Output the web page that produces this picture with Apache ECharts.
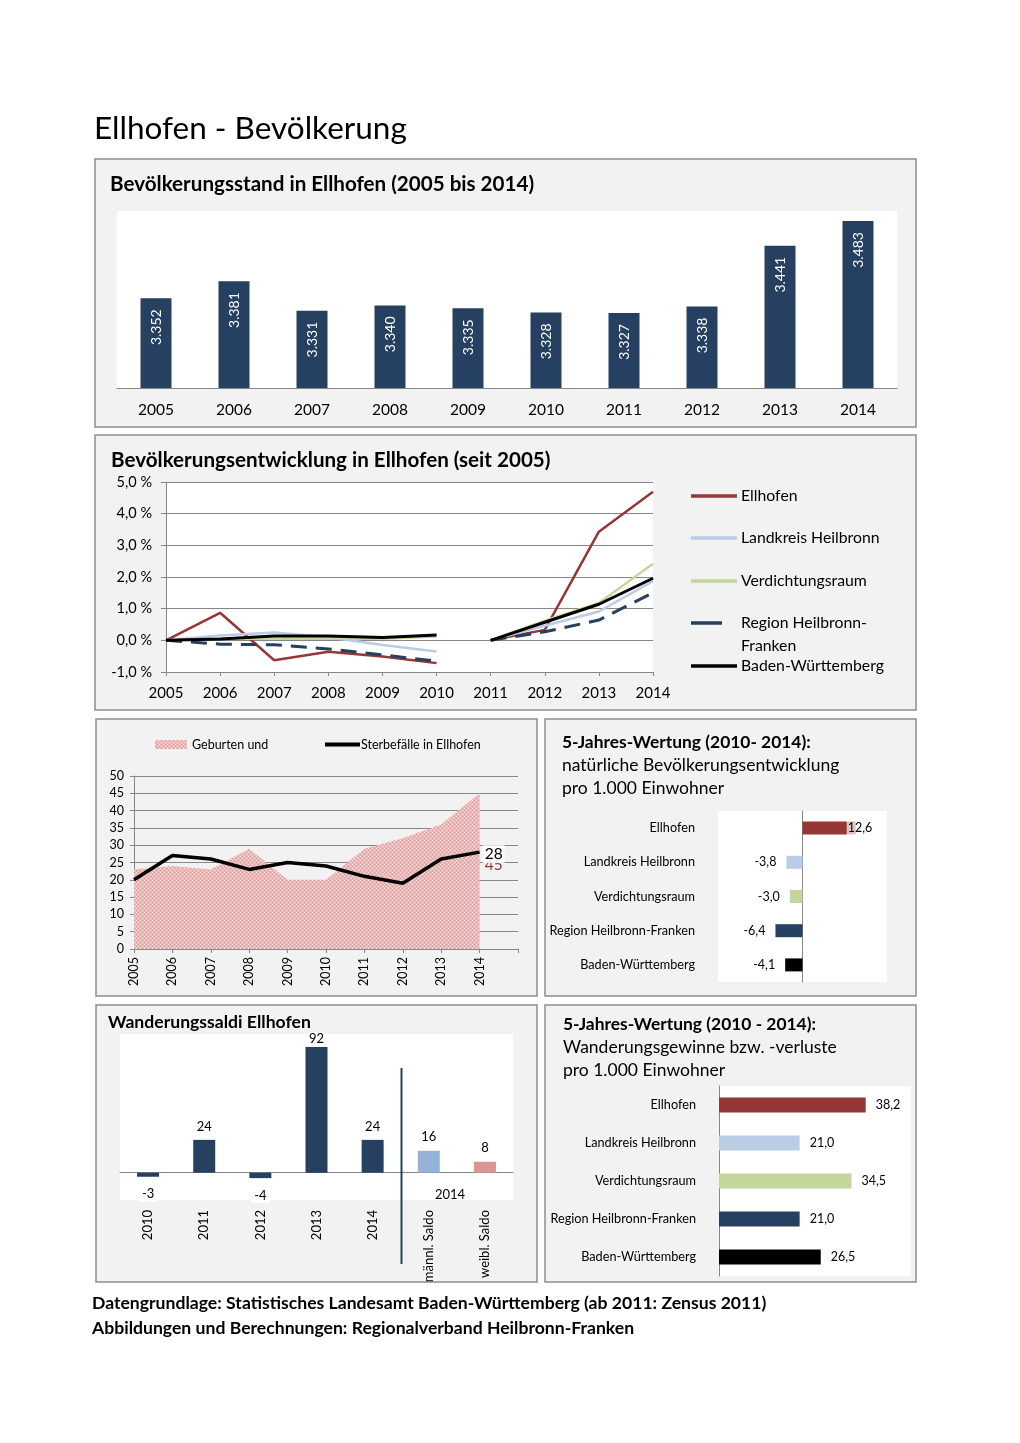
<!DOCTYPE html>
<html><head><meta charset="utf-8">
<script src="https://cdn.jsdelivr.net/npm/echarts@6/dist/echarts.min.js"></script>
<style>html,body{margin:0;padding:0;background:#fff}#c{width:1020px;height:1443px}</style>
</head><body><div id="c"></div>
<script>
// ---------- data ----------
const years = ['2005','2006','2007','2008','2009','2010','2011','2012','2013','2014'];
const population = [3352,3381,3331,3340,3335,3328,3327,3338,3441,3483];

const devEllhofen      = [0, 0.87, -0.63, -0.36, -0.51, -0.72, 0, 0.33, 3.43, 4.69];
const devLandkreis     = [0, 0.15, 0.25, 0.10, -0.15, -0.35, 0, 0.46, 0.91, 1.87];
const devVerdichtung   = [0, 0.05, 0.05, 0.05, 0.05, 0.12, 0, 0.62, 1.18, 2.42];
const devRegion        = [0, -0.12, -0.14, -0.27, -0.46, -0.66, 0, 0.27, 0.64, 1.50];
const devBW            = [0, 0.04, 0.14, 0.14, 0.09, 0.17, 0, 0.57, 1.14, 1.96];

const births = [23, 24, 23, 29, 20, 20, 29, 32, 36, 45];
const deaths = [20, 27, 26, 23, 25, 24, 21, 19, 26, 28];

const regions = ['Ellhofen','Landkreis Heilbronn','Verdichtungsraum','Region Heilbronn-Franken','Baden-Württemberg'];
const naturalBalance = [12.6, -3.8, -3.0, -6.4, -4.1];
const migrationGain  = [38.2, 21.0, 34.5, 21.0, 26.5];

const saldoCats  = ['2010','2011','2012','2013','2014','männl. Saldo','weibl. Saldo'];
const saldoVals  = [-3, 24, -4, 92, 24, 16, 8];

// ---------- styling helpers ----------
const FONT = 'Lato';
const navy = '#254061';
const regionColors = ['#953735','#B9CDE5','#C3D69B','#254061','#000000'];
const saldoColors = [navy, navy, navy, navy, navy, '#95B3D7', '#D99694'];
const gridGray = '#868686';
const de = v => v.toFixed(1).replace('.', ',');
const thousands = v => String(v).replace(/\B(?=(\d{3})+(?!\d))/g, '.');

function makePattern(){
  const c = document.createElement('canvas'); c.width = 4; c.height = 4;
  const g = c.getContext('2d');
  g.fillStyle = '#EDB8B8'; g.fillRect(0,0,4,4);
  g.fillStyle = '#F8E2E2'; g.fillRect(0,0,1,1); g.fillRect(2,2,1,1);
  g.fillStyle = '#DE9A9A'; g.fillRect(2,0,1,1); g.fillRect(0,2,1,1);
  return c;
}
const pattern = {image: makePattern(), repeat: 'repeat'};

// ---------- line series (split at 2010/2011 break) ----------
const devSets = [devEllhofen, devLandkreis, devVerdichtung, devRegion, devBW];
const lineSeries = [];
devSets.forEach((arr, i) => {
  const part1 = arr.map((v, k) => k <= 5 ? v : null);
  const part2 = arr.map((v, k) => k >= 6 ? v : null);
  const ls = {color: regionColors[i], width: (i === 3 || i === 4) ? 3 : 2.5,
              type: i === 3 ? [16, 9] : 'solid'};
  [part1, part2].forEach(d => lineSeries.push({
    type: 'line', name: regions[i], xAxisIndex: 1, yAxisIndex: 1, data: d,
    symbol: 'none', connectNulls: false, lineStyle: ls, itemStyle: {color: regionColors[i]},
    z: 3 + i, animation: false
  }));
});

// ---------- graphic (panels, titles) ----------
function panel(x, y, w, h){
  return {type:'rect', shape:{x, y, width:w, height:h}, style:{fill:'#F2F2F2', stroke:'#8E8E8E', lineWidth:1.5}, z:-10, silent:true};
}
function txt(text, x, y, size, bold, extra){
  return Object.assign({type:'text', z:50, silent:true, style:{
    text, x, y, fill:'#000', font:(bold ? 'bold ' : '') + size + 'px ' + FONT,
    align:'left', verticalAlign:'middle', textAlign:'left', textVerticalAlign:'middle'
  }}, extra || {});
}

const graphic = [
  panel(95, 159, 821, 268),
  panel(95, 435, 821, 275),
  panel(96, 719, 441, 277),
  panel(545, 719, 371, 277),
  panel(96, 1005, 441, 277),
  panel(545, 1005, 371, 277),
  {type:'rect', shape:{x:120, y:1034, width:393, height:166}, style:{fill:'#fff'}, z:-5, silent:true},
  txt('Ellhofen - Bevölkerung', 94, 129, 31.5, false),
  txt('Bevölkerungsstand in Ellhofen (2005 bis 2014)', 110, 184, 20.6, true),
  txt('Bevölkerungsentwicklung in Ellhofen (seit 2005)', 111, 460, 20.6, true),
  txt('Franken', 741, 646, 15.8, false),
  txt('5-Jahres-Wertung (2010- 2014):', 562, 742, 17.4, true),
  txt('natürliche Bevölkerungsentwicklung', 562, 765, 17.5, false),
  txt('pro 1.000 Einwohner', 562, 788, 17.5, false),
  txt('Wanderungssaldi Ellhofen', 108, 1022, 17.6, true),
  txt('5-Jahres-Wertung (2010 - 2014):', 563, 1024, 17.4, true),
  txt('Wanderungsgewinne bzw. -verluste', 563, 1047, 17.5, false),
  txt('pro 1.000 Einwohner', 563, 1070, 17.5, false),
  txt('2014', 435, 1195, 13, false),
  {type:'line', z:40, silent:true, shape:{x1:401.5, y1:1068, x2:401.5, y2:1264}, style:{stroke:navy, lineWidth:2}},
  txt('Datengrundlage: Statistisches Landesamt Baden-Württemberg (ab 2011: Zensus 2011)', 92, 1303, 17.6, true),
  txt('Abbildungen und Berechnungen: Regionalverband Heilbronn-Franken', 92, 1328, 17.6, true)
];

// ---------- legends ----------
const legendYs = [497, 539, 582, 624, 667];
const legends = regions.map((r, i) => ({
  left: 691, top: legendYs[i] - 9, padding: 0, selectedMode: false,
  itemWidth: i === 3 ? 31 : 46, itemHeight: 3.5,
  textStyle: {fontFamily: FONT, fontSize: 15.8, color: '#000', padding: [0, 0, 0, i === 3 ? 14 : -1]},
  formatter: n => n === 'Region Heilbronn-Franken' ? 'Region Heilbronn-' : n,
  data: [{name: r, icon: 'rect', itemStyle: {color: regionColors[i]}}]
}));
legends.push({left:155, top:738, padding:0, selectedMode:false, itemWidth:32, itemHeight:9,
  textStyle:{fontFamily:FONT, fontSize:12.5, color:'#000'},
  data:[{name:'Geburten und', icon:'rect', itemStyle:{color:pattern}}]});
legends.push({left:325, top:738, padding:0, selectedMode:false, itemWidth:35, itemHeight:4,
  textStyle:{fontFamily:FONT, fontSize:12.5, color:'#000', padding:[0,0,0,-4]},
  data:[{name:'Sterbefälle in Ellhofen', icon:'rect', itemStyle:{color:'#000'}}]});

const axisLbl = (extra) => Object.assign({color:'#000', fontFamily:FONT}, extra);

const option = {
  backgroundColor: '#fff',
  animation: false,
  textStyle: {fontFamily: FONT},
  graphic: graphic,
  legend: legends,
  grid: [
    {left:117, top:211, width:780, height:177, show:true, backgroundColor:'#fff', borderWidth:0},
    {left:166, top:482, width:487, height:190, show:true, backgroundColor:'#fff', borderWidth:0},
    {left:134, top:776, width:384, height:173, show:false},
    {left:718, top:811, width:169, height:171, show:true, backgroundColor:'#fff', borderWidth:0},
    {left:719, top:1086, width:192, height:190, show:true, backgroundColor:'#fff', borderWidth:0},
    {left:120, top:1036, width:393, height:164, show:false}
  ],
  xAxis: [
    {gridIndex:0, type:'category', data:years,
     axisLine:{lineStyle:{color:gridGray}}, axisTick:{length:4, lineStyle:{color:gridGray}},
     axisLabel:axisLbl({fontSize:15.5, margin:14})},
    {gridIndex:1, type:'category', data:years, boundaryGap:false,
     axisLine:{onZero:false, lineStyle:{color:gridGray}}, axisTick:{length:4, lineStyle:{color:gridGray}},
     axisLabel:axisLbl({fontSize:15, margin:14})},
    {gridIndex:2, type:'category', data:years.concat(['']), boundaryGap:false,
     axisLine:{lineStyle:{color:gridGray}}, axisTick:{length:4, lineStyle:{color:gridGray}},
     axisLabel:axisLbl({fontSize:12.5, margin:8, rotate:90, interval:0})},
    {gridIndex:3, type:'value', min:-20, max:20, show:false},
    {gridIndex:4, type:'value', min:0, max:50, show:false},
    {gridIndex:5, type:'category', data:saldoCats,
     axisLine:{onZero:true, lineStyle:{color:gridGray}}, axisTick:{length:4, lineStyle:{color:gridGray}},
     axisLabel:axisLbl({fontSize:13, margin:10, rotate:90, interval:0})}
  ],
  yAxis: [
    {gridIndex:0, type:'value', min:3200, max:3500, show:false},
    {gridIndex:1, type:'value', min:-1, max:5, interval:1,
     axisLine:{show:true, lineStyle:{color:gridGray}}, axisTick:{show:true, length:5, lineStyle:{color:gridGray}},
     splitLine:{lineStyle:{color:gridGray}},
     axisLabel:axisLbl({fontSize:14.5, margin:14, formatter: v => de(v) + ' %'})},
    {gridIndex:2, type:'value', min:0, max:50, interval:5,
     axisLine:{show:true, lineStyle:{color:gridGray}}, axisTick:{show:true, length:4, lineStyle:{color:gridGray}},
     splitLine:{lineStyle:{color:gridGray}},
     axisLabel:axisLbl({fontSize:12.5, margin:10})},
    {gridIndex:3, type:'category', data:regions, inverse:true,
     axisLine:{onZero:true, lineStyle:{color:gridGray}}, axisTick:{length:4, lineStyle:{color:gridGray}},
     axisLabel:{show:false}},
    {gridIndex:3, type:'category', data:regions, inverse:true, position:'left',
     axisLine:{show:false, onZero:false}, axisTick:{show:false}, splitLine:{show:false},
     axisLabel:axisLbl({fontSize:12.7, margin:23})},
    {gridIndex:4, type:'category', data:regions, inverse:true,
     axisLine:{lineStyle:{color:gridGray}}, axisTick:{length:4, lineStyle:{color:gridGray}},
     axisLabel:axisLbl({fontSize:12.7, margin:23})},
    {gridIndex:5, type:'value', min:-20, max:100, show:false}
  ],
  series: [
    {type:'bar', xAxisIndex:0, yAxisIndex:0, data:population, barWidth:31,
     itemStyle:{color:navy},
     label:{show:true, position:'insideTop', rotate:90, align:'right', verticalAlign:'middle', distance:11,
            color:'#fff', fontSize:14, fontFamily:FONT, formatter: p => thousands(p.value)}},
    ...lineSeries,
    {type:'line', name:'Geburten und', xAxisIndex:2, yAxisIndex:2, symbol:'none',
     data: births.map((v, k) => k === births.length - 1
       ? {value:v, symbol:'circle', symbolSize:0.1,
          label:{show:true, position:'right', offset:[0,72], color:'#953735', fontSize:15.5, fontFamily:FONT}}
       : v),
     lineStyle:{width:0}, itemStyle:{color:'#E6A0A0'}, areaStyle:{color:pattern, opacity:1}, z:2},
    {type:'line', name:'Sterbefälle in Ellhofen', xAxisIndex:2, yAxisIndex:2, symbol:'none',
     data: deaths.map((v, k) => k === deaths.length - 1
       ? {value:v, symbol:'circle', symbolSize:0.1,
          label:{show:true, position:'right', distance:3, offset:[0,2], color:'#000', fontSize:15.5, fontFamily:FONT,
                 backgroundColor:'rgba(255,255,255,0.85)', padding:[1,2]}}
       : v),
     lineStyle:{width:3.5, color:'#000'}, itemStyle:{color:'#000'}, z:4},
    {type:'bar', xAxisIndex:3, yAxisIndex:3, barWidth:13,
     data: naturalBalance.map((v, k) => ({value:v, itemStyle:{color:regionColors[k]},
       label: v >= 0
         ? {show:true, position:'right', offset:[-14,0], distance:5, backgroundColor:'rgba(255,255,255,0.7)', padding:[1,1]}
         : {show:true, position:'left', distance:10}})),
     label:{color:'#000', fontSize:12.5, fontFamily:FONT, formatter: p => de(p.value)}},
    {type:'bar', xAxisIndex:4, yAxisIndex:5, barWidth:15,
     data: migrationGain.map((v, k) => ({value:v, itemStyle:{color:regionColors[k]}})),
     label:{show:true, position:'right', distance:10, color:'#000', fontSize:12.5, fontFamily:FONT, formatter: p => de(p.value)}},
    {type:'bar', xAxisIndex:5, yAxisIndex:6, barWidth:22,
     data: saldoVals.map((v, k) => ({value:v, itemStyle:{color:saldoColors[k]},
       label: v >= 0 ? {show:true, position:'top', distance: v > 80 ? 2 : 7, backgroundColor: v > 80 ? '#fff' : 'transparent'}
                     : {show:true, position:'bottom', distance:10, backgroundColor:'#fff', padding:[1,3]}})),
     label:{color:'#000', fontSize:13, fontFamily:FONT}}
  ]
};

const chart = echarts.init(document.getElementById('c'), null, {renderer:'canvas'});
chart.setOption(option);
</script>
</body></html>
